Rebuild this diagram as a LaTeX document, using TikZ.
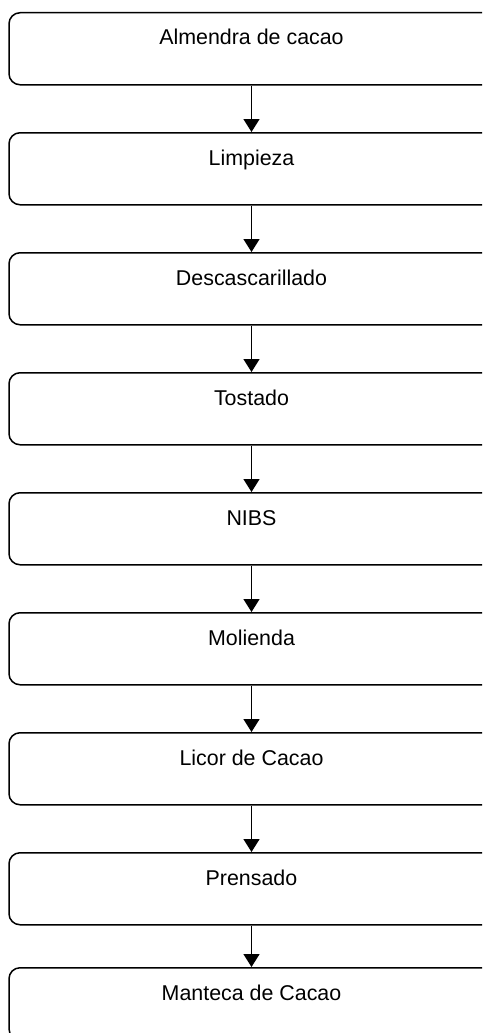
\documentclass[tikz,border=0pt]{standalone}
\usepackage{fontspec}
\setmainfont{Liberation Sans}
\usetikzlibrary{arrows.meta,calc}
\tikzset{
  stagebox/.style={draw=black, line width=1.5pt, rounded corners=11pt, minimum width=485pt, minimum height=72pt, inner sep=0pt, anchor=north},
  stagetext/.style={anchor=base, font=\fontsize{21.4}{24}\selectfont, inner sep=0pt},
  flowarrow/.style={line width=1.5pt, -{Triangle[width=16pt,length=13pt]}}
}
\begin{document}
\begin{tikzpicture}[x=1pt,y=-1pt]
\useasboundingbox (0,0) rectangle (482,1033);
\clip (0,0) rectangle (482,1033);
\foreach \n/\t/\lab in {1/12/Almendra de cacao,2/132/Limpieza,3/252/Descascarillado,4/372/Tostado,5/492/NIBS,6/612/Molienda,7/732/Licor de Cacao,8/852/Prensado,9/967/Manteca de Cacao}{
  \node[stagebox] (b\n) at (251.5,\t) {};
  \node[stagetext] (t\n) at ($(b\n.north)+(0,33)$) {\lab};
}
\foreach \a/\b in {1/2,2/3,3/4,4/5,5/6,6/7,7/8,8/9}{
  \draw[flowarrow] (b\a.south) -- (b\b.north);
}
\end{tikzpicture}
\end{document}
